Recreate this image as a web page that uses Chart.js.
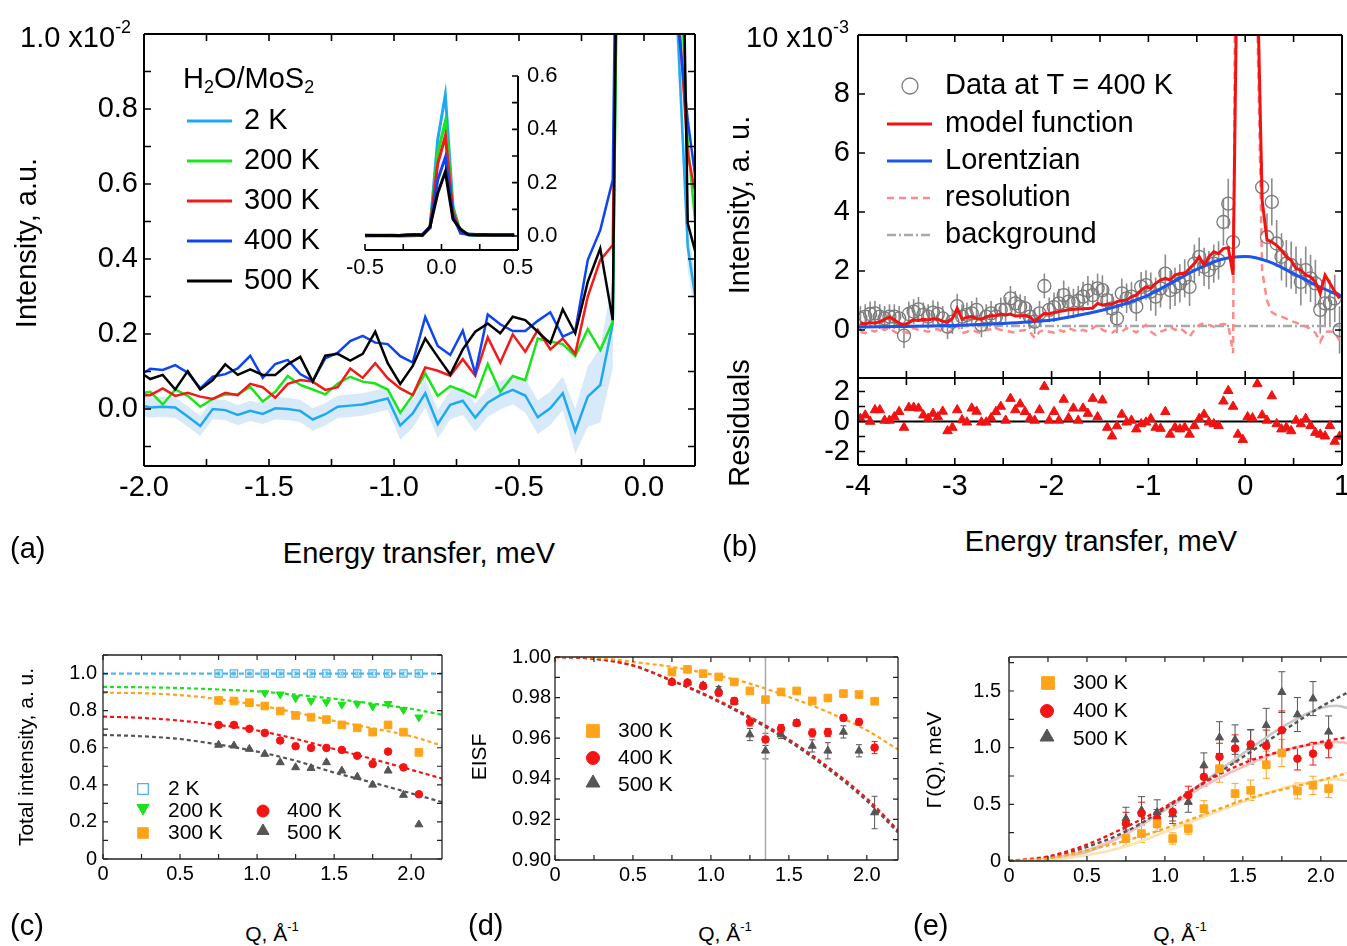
<!DOCTYPE html>
<html>
<head>
<meta charset="utf-8">
<title>H2O/MoS2 quasielastic neutron scattering</title>
<script src="https://cdn.jsdelivr.net/npm/chart.js@4.4.1/dist/chart.umd.min.js"></script>
<style>
  html, body { margin: 0; padding: 0; background: #fff; overflow: hidden; }
  #fig { position: relative; width: 1347px; height: 946px; overflow: hidden; background: #fff;
         font-family: "Liberation Sans", Arial, Helvetica, sans-serif; color: #000; }
  #fig canvas { position: absolute; }
  .t { position: absolute; white-space: nowrap; line-height: 1; }
  .c { transform: translate(-50%, -50%); }
  .l { transform: translate(0, -50%); }
  .r { transform: translate(-50%, -50%) rotate(-90deg); }
  .big { font-size: 29px; }
  .sm { font-size: 21px; }
  sup { font-size: 0.62em; vertical-align: 0.75em; line-height: 0; }
  sub { font-size: 0.62em; vertical-align: -0.3em; line-height: 0; }
</style>
</head>
<body>
<div id="fig">
  <canvas id="chartA" width="720" height="520" style="left:0;top:0"></canvas>
  <canvas id="chartInset" width="240" height="234" style="left:340px;top:56px"></canvas>
  <canvas id="chartB" width="620" height="380" style="left:740px;top:0"></canvas>
  <canvas id="chartBres" width="620" height="150" style="left:740px;top:370px"></canvas>
  <canvas id="chartC" width="470" height="260" style="left:0;top:640px"></canvas>
  <canvas id="chartD" width="470" height="260" style="left:460px;top:640px"></canvas>
  <canvas id="chartE" width="460" height="260" style="left:920px;top:640px"></canvas>

  <div class="t l big" style="left:20px;top:37px">1.0 x10<sup>-2</sup></div>
  <div class="t r big" style="left:26px;top:243px">Intensity, a.u.</div>
  <div class="t c big" style="left:419px;top:553px">Energy transfer, meV</div>
  <div class="t l big" style="left:10px;top:548px">(a)</div>
  <div class="t l big" style="left:183px;top:78px">H<sub>2</sub>O/MoS<sub>2</sub></div>

  <div class="t l big" style="left:746px;top:37px">10 x10<sup>-3</sup></div>
  <div class="t r big" style="left:739px;top:205px">Intensity, a. u.</div>
  <div class="t r big" style="left:739px;top:423px">Residuals</div>
  <div class="t c big" style="left:1101px;top:541px">Energy transfer, meV</div>
  <div class="t l big" style="left:722px;top:546px">(b)</div>

  <div class="t r sm" style="left:25px;top:757px">Total intensity, a. u.</div>
  <div class="t c sm" style="left:272px;top:933px">Q, Å<sup>-1</sup></div>
  <div class="t l big" style="left:10px;top:925px">(c)</div>

  <div class="t r sm" style="left:478px;top:757px">EISF</div>
  <div class="t c sm" style="left:725px;top:933px">Q, Å<sup>-1</sup></div>
  <div class="t l big" style="left:468px;top:925px">(d)</div>

  <div class="t r sm" style="left:933px;top:760px">Γ(Q), meV</div>
  <div class="t c sm" style="left:1180px;top:933px">Q, Å<sup>-1</sup></div>
  <div class="t l big" style="left:913px;top:925px">(e)</div>
</div>

<script>
// ---------- (a) spectra, intensity in units of 1e-2 ----------
const aEnergy = [-2.025, -1.975, -1.925, -1.875, -1.825, -1.775, -1.725, -1.675, -1.625, -1.575,
  -1.525, -1.475, -1.425, -1.375, -1.325, -1.275, -1.225, -1.175, -1.125, -1.075,
  -1.025, -0.975, -0.925, -0.875, -0.825, -0.775, -0.725, -0.675, -0.625, -0.575,
  -0.525, -0.475, -0.425, -0.375, -0.325, -0.275, -0.225, -0.175, -0.125, -0.075,
  -0.025, 0.025, 0.075, 0.125, 0.175, 0.225, 0.275, 0.325, 0.375, 0.425, 0.475];
const a2K = [0.012,
  0.004, 0.006, 0.004, -0.020, -0.045, 0.000, -0.003, -0.016, -0.005, -0.013,
  0.002, 0.000, -0.005, -0.028, -0.014, 0.006, 0.009, 0.012, 0.020,
  0.028, -0.044, -0.012, 0.042, -0.040, 0.011, 0.022, -0.023, 0.017, 0.037,
  0.051, 0.036, -0.022, 0.002, 0.042, -0.059,
  0.033, 0.064, 0.228,
  3.2, 36, 52.9, 11, 1.15, 0.433, 0.21, 0.30, 0.28, 0.30, 0.28, 0.30];
const a200K = [0.040,
  0.046, 0.012, 0.052, 0.035, 0.006, 0.027, 0.039, 0.039, 0.059, 0.020,
  0.046, 0.088, 0.064, 0.052, 0.039, 0.068, 0.086, 0.073, 0.068,
  0.052, -0.010, 0.037, 0.095, 0.035, 0.061, 0.048, 0.031, 0.120, 0.046,
  0.088, 0.077, 0.188, 0.180, 0.173, 0.141,
  0.213, 0.157, 0.233,
  3.0, 31, 42.9, 10, 1.5, 0.71, 0.355, 0.35, 0.32, 0.30, 0.30, 0.28];
const a300K = [0.037,
  0.037, 0.055, 0.035, 0.043, 0.033, 0.027, 0.043, 0.037, 0.067, 0.058,
  0.030, 0.067, 0.077, 0.073, 0.051, 0.058, 0.108, 0.083, 0.122,
  0.082, 0.055, 0.037, 0.111, 0.102, 0.089, 0.133, 0.089, 0.191, 0.124,
  0.199, 0.153, 0.211, 0.159, 0.188, 0.147,
  0.300, 0.397, 0.437,
  3.1, 27, 37.5, 9, 1.2, 0.68, 0.51, 0.40, 0.36, 0.35, 0.33, 0.33];
const a400K = [0.087,
  0.107, 0.104, 0.117, 0.097, 0.055, 0.086, 0.093, 0.108, 0.142, 0.083,
  0.120, 0.131, 0.093, 0.075, 0.135, 0.150, 0.181, 0.195, 0.177,
  0.173, 0.141, 0.124, 0.245, 0.168, 0.144, 0.209, 0.095, 0.252, 0.226,
  0.208, 0.208, 0.235, 0.258, 0.193, 0.208,
  0.397, 0.477, 0.611,
  3.3, 21, 29.5, 7.5, 1.1, 0.77, 0.52, 0.45, 0.42, 0.40, 0.38, 0.38];
const a500K = [0.102,
  0.080, 0.091, 0.052, 0.101, 0.052, 0.077, 0.119, 0.091, 0.106, 0.091,
  0.091, 0.119, 0.139, 0.073, 0.142, 0.147, 0.129, 0.147, 0.206,
  0.122, 0.067, 0.115, 0.188, 0.139, 0.092, 0.159, 0.206, 0.228, 0.202,
  0.246, 0.237, 0.206, 0.175, 0.266, 0.202,
  0.339, 0.428, 0.237,
  3.5, 16, 24.1, 6.3, 2.5, 0.495, 0.37, 0.45, 0.42, 0.40, 0.40, 0.38];
const a2KErr = [0.027, 0.027, 0.027, 0.027, 0.027, 0.027, 0.027, 0.027, 0.027, 0.027,
  0.027, 0.030, 0.030, 0.030, 0.030, 0.030, 0.030, 0.030, 0.030, 0.030,
  0.030, 0.038, 0.038, 0.038, 0.038, 0.038, 0.038, 0.038, 0.038, 0.038,
  0.038, 0.045, 0.045, 0.045, 0.045, 0.060, 0.080, 0.100, 0.120, 0.15,
  0.15, 0.15, 0.15, 0.10, 0.06, 0.05, 0.03, 0.03, 0.03, 0.03, 0.03];
const aNames = ['2 K', '200 K', '300 K', '400 K', '500 K'];
const aUnit = 0.01;   // inset is plotted in absolute units
const aXTickVals = [-2, -1.5, -1, -0.5, 0];
const aXTickText = ['-2.0', '-1.5', '-1.0', '-0.5', '0.0'];
const aYTickVals = [0, 0.2, 0.4, 0.6, 0.8];
const aYTickText = ['0.0', '0.2', '0.4', '0.6', '0.8'];
const insXTickVals = [-0.5, 0, 0.5];
const insXTickText = ['-0.5', '0.0', '0.5'];
const insYTickVals = [0, 0.2, 0.4, 0.6];
const insYTickText = ['0.0', '0.2', '0.4', '0.6'];

// ---------- (b) fit at 400 K, intensity in units of 1e-3 ----------
const bEnergy = [-3.975, -3.925, -3.875, -3.825, -3.775, -3.725, -3.675, -3.625, -3.575, -3.525,
  -3.475, -3.425, -3.375, -3.325, -3.275, -3.225, -3.175, -3.125, -3.075, -3.025,
  -2.975, -2.925, -2.875, -2.825, -2.775, -2.725, -2.675, -2.625, -2.575, -2.525,
  -2.475, -2.425, -2.375, -2.325, -2.275, -2.225, -2.175, -2.125, -2.075, -2.025,
  -1.975, -1.925, -1.875, -1.825, -1.775, -1.725, -1.675, -1.625, -1.575, -1.525,
  -1.475, -1.425, -1.375, -1.325, -1.275, -1.225, -1.175, -1.125, -1.075, -1.025,
  -0.975, -0.925, -0.875, -0.825, -0.775, -0.725, -0.675, -0.625, -0.575, -0.525,
  -0.475, -0.425, -0.375, -0.325, -0.275, -0.225, -0.175, -0.125, -0.075, -0.025,
  0.025, 0.075, 0.125, 0.175, 0.225, 0.275, 0.325, 0.375, 0.425, 0.475,
  0.525, 0.575, 0.625, 0.675, 0.725, 0.775, 0.825, 0.875, 0.925, 0.975];
const bData = [0.39, 0.45, 0.54, 0.56, 0.45, 0.39, 0.45, 0.45, 0.39, -0.19,
  0.54, 0.62, 0.70, 0.51, 0.45, 0.59, 0.54, 0.39, 0.11, 0.28,
  0.81, 0.45, 0.51, 0.56, 0.68, 0.17, 0.45, 0.56, 0.45, 0.68,
  0.70, 1.07, 0.90, 0.79, 0.73, 0.45, 0.28, 0.56, 1.49, 0.68,
  0.77, 0.90, 1.18, 0.96, 0.90, 0.99, 1.13, 1.33, 1.18, 1.41,
  1.35, 1.01, 0.73, 0.39, 1.24, 1.07, 1.13, 0.79, 1.46, 1.52,
  1.30, 1.13, 1.41, 1.91, 1.35, 1.46, 1.58, 1.75, 1.46, 2.25,
  2.48, 2.14, 2.03, 2.25, 2.36, 3.66, 4.28, 2.98, 14, 48,
  62, 26, 12, 4.84, 3.15, 4.34, 2.93, 2.48, 2.25, 2.20,
  2.03, 1.63, 2.03, 1.75, 1.58, 0.68, 0.90, 0.90, 1.07, 0.00];
const bErr = [0.42, 0.42, 0.42, 0.42, 0.42, 0.42, 0.42, 0.42, 0.42, 0.42,
  0.42, 0.42, 0.42, 0.42, 0.42, 0.42, 0.42, 0.42, 0.42, 0.42,
  0.42, 0.42, 0.42, 0.42, 0.42, 0.42, 0.42, 0.42, 0.42, 0.42,
  0.42, 0.42, 0.42, 0.42, 0.42, 0.42, 0.42, 0.42, 0.42, 0.42,
  0.50, 0.50, 0.50, 0.50, 0.50, 0.50, 0.50, 0.50, 0.50, 0.50,
  0.50, 0.50, 0.50, 0.50, 0.50, 0.50, 0.50, 0.50, 0.50, 0.50,
  0.65, 0.65, 0.65, 0.65, 0.65, 0.65, 0.65, 0.65, 0.65, 0.65,
  0.65, 0.65, 0.65, 0.65, 0.65, 0.80, 0.85, 0.80, 1.5, 1.5,
  1.5, 1.5, 1.5, 0.85, 0.80, 0.80, 0.80, 0.80, 0.80, 0.80,
  0.80, 0.80, 0.80, 0.80, 0.80, 0.80, 0.80, 0.80, 0.80, 0.80];
const bModel = [0.23, 0.20, 0.25, 0.23, 0.28, 0.36, 0.43, 0.34, 0.23, 0.17,
  0.25, 0.34, 0.32, 0.36, 0.34, 0.38, 0.36, 0.29, 0.26, 0.39,
  0.73, 0.36, 0.43, 0.45, 0.39, 0.36, 0.45, 0.48, 0.48, 0.54,
  0.51, 0.54, 0.47, 0.48, 0.48, 0.45, 0.28, 0.43, 0.56, 0.54,
  0.59, 0.62, 0.65, 0.68, 0.70, 0.71, 0.72, 0.73, 0.74, 0.90,
  0.84, 0.88, 0.87, 0.96, 0.99, 1.01, 1.13, 1.18, 1.35, 1.46,
  1.41, 1.58, 1.69, 1.75, 1.69, 1.86, 1.91, 1.91, 2.08, 2.25,
  2.48, 2.20, 2.48, 2.65, 2.59, 2.76, 2.79, 1.86, 15, 60,
  70, 30, 12, 4.39, 3.06, 2.98, 2.87, 2.70, 2.48, 2.36,
  2.08, 2.03, 1.86, 1.80, 1.63, 1.24, 1.86, 1.58, 1.30, 1.07];
const bResolution = [-0.06, -0.11, 0.00, -0.06, 0.06, 0.00, 0.08, -0.06, -0.14, -0.06,
  -0.11, 0.06, 0.00, -0.03, -0.06, 0.00, 0.03, -0.06, -0.11, 0.00,
  0.17, -0.11, -0.06, 0.00, -0.06, -0.11, 0.00, 0.02, 0.06, 0.00,
  -0.02, -0.06, -0.09, -0.03, 0.00, -0.06, -0.28, -0.06, 0.00, -0.06,
  -0.09, 0.00, -0.06, 0.06, 0.00, -0.06, 0.00, -0.06, 0.06, 0.17,
  0.00, -0.06, -0.09, 0.00, -0.06, 0.06, 0.00, -0.09, 0.06, 0.17,
  -0.06, -0.17, -0.06, 0.00, 0.11, 0.00, 0.06, -0.06, -0.23, 0.00,
  0.17, 0.23, 0.17, 0.11, 0.17, 0.20, 0.17, -0.79, 30, 80,
  90, 40, 10.5, 2.0, 1.0, 0.60, 0.50, 0.45, 0.38, 0.30,
  0.25, 0.17, 0.12, 0.03, -0.10, -0.40, -0.06, -0.05, -0.10, -0.35];
const bResidual = [0.19, 0.42, 0.00, 0.77, 0.77, 0.07, 0.07, 0.30, 0.65, -0.40,
  0.93, 0.93, 0.88, 0.42, 0.20, 0.53, 0.30, 0.67, -0.63, -0.40,
  0.77, 0.10, -0.05, 0.88, 0.67, -0.05, -0.05, 0.23, 0.65, 1.00,
  0.07, 1.53, 0.77, 1.16, 0.65, 0.19, 0.07, 0.77, 2.33, 0.07,
  0.65, 0.07, 1.47, 0.23, 0.88, 0.07, 0.88, 0.53, 1.53, 0.30,
  1.42, -0.40, -0.98, -0.30, 0.47, -0.05, 0.07, -0.51, -0.16, -0.05,
  0.19, -0.40, -0.47, 0.65, -0.86, -0.40, -0.51, -0.40, -0.86, -0.28,
  0.19, 0.47, -0.05, -0.16, -0.28, 1.35, 2.05, 1.00, -0.86, -1.21,
  0.30, 0.23, 2.51, 0.42, 0.07, 1.70, -0.16, -0.51, -0.40, -0.63,
  0.07, -0.16, 0.19, -0.28, -0.74, -0.86, -0.98, -0.28, -1.33, -1.00];
const bLorEnergy = [-4, -3.75, -3.5, -3.25, -3, -2.75, -2.5, -2.25, -2, -1.75,
  -1.5, -1.25, -1, -0.75, -0.5, -0.25, 0, 0.25, 0.5, 0.75, 1];
const bLorentzian = [0.10, 0.11, 0.12, 0.13, 0.15, 0.18, 0.22, 0.27, 0.34, 0.48,
  0.65, 0.88, 1.18, 1.62, 2.05, 2.39, 2.49, 2.31, 1.91, 1.49, 1.13];
const bBgEnergy = [-4, 1];
const bBackground = [0.13, 0.13];
const bZero = [0, 0];
const bNames = ['Data at T = 400 K', 'model function', 'Lorentzian', 'resolution', 'background'];
const bXTickVals = [-4, -3, -2, -1, 0, 1];
const bXTickText = ['-4', '-3', '-2', '-1', '0', '1'];
const bYTickVals = [0, 2, 4, 6, 8];
const bYTickText = ['0', '2', '4', '6', '8'];
const bResTickVals = [-2, 0, 2];
const bResTickText = ['-2', '0', '2'];

// ---------- (c)-(e) Q dependence ----------
const qVals = [0.75, 0.85, 0.95, 1.05, 1.15, 1.25, 1.35, 1.45, 1.55, 1.65, 1.75, 1.85, 1.95, 2.05];
const qFit = [0, 0.25, 0.5, 0.75, 1.0, 1.25, 1.5, 1.75, 2.0, 2.2];
const qNames = ['2 K', '200 K', '300 K', '400 K', '500 K'];

const c2K = [1.0, 1.0, 1.0, 1.0, 1.0, 1.0, 1.0, 1.0, 1.0, 1.0, 1.0, 1.0, 1.0, 1.0];
const c200K = [null, null, null, 0.895, 0.888, 0.868, 0.852, 0.846, 0.833, 0.837, 0.823, 0.837, 0.804, 0.764];
const c300K = [0.855, 0.852, 0.843, 0.825, 0.798, 0.774, 0.765, 0.752, 0.723, 0.707, 0.684, 0.723, 0.684, 0.575];
const c400K = [0.723, 0.723, 0.702, 0.680, 0.639, 0.608, 0.599, 0.599, 0.588, 0.557, 0.512, 0.579, 0.494, 0.349];
const c500K = [0.615, 0.611, 0.593, 0.566, 0.521, 0.494, 0.490, 0.521, 0.476, 0.443, 0.400, 0.476, 0.345, 0.186];
const cErr = [0.008, 0.008, 0.008, 0.008, 0.008, 0.008, 0.008, 0.008, 0.008, 0.008, 0.008, 0.008, 0.008, 0.008];
const c2KFit = [1, 1, 1, 1, 1, 1, 1, 1, 1, 1];
const c200KFit = [0.928, 0.926, 0.922, 0.914, 0.904, 0.886, 0.864, 0.838, 0.810, 0.778];
const c300KFit = [0.897, 0.894, 0.884, 0.862, 0.830, 0.790, 0.745, 0.705, 0.662, 0.611];
const c400KFit = [0.768, 0.761, 0.746, 0.723, 0.693, 0.648, 0.593, 0.539, 0.481, 0.434];
const c500KFit = [0.669, 0.662, 0.647, 0.617, 0.579, 0.530, 0.466, 0.412, 0.354, 0.307];

const d300K = [0.9926, 0.9939, 0.9918, 0.9902, 0.9877, 0.9833, 0.9790, 0.9828, 0.9833, 0.9784, 0.9798, 0.9820, 0.9815, 0.9782];
const d400K = [0.9877, 0.9874, 0.9856, 0.9823, 0.9784, 0.9680, 0.9594, 0.9647, 0.9675, 0.9626, 0.9628, 0.9700, 0.9680, 0.9554];
const d500K = [0.9877, 0.9874, 0.9860, 0.9840, 0.9779, 0.9618, 0.9538, 0.9618, 0.9675, 0.9562, 0.9538, 0.9631, 0.9538, 0.9234];
const d400Err = [0.001, 0.001, 0.001, 0.001, 0.0015, 0.002, 0.003, 0.002, 0.0015, 0.002, 0.002, 0.0015, 0.0015, 0.003];
const d500Err = [0.001, 0.001, 0.0015, 0.0015, 0.0015, 0.003, 0.004, 0.002, 0.0015, 0.003, 0.004, 0.003, 0.003, 0.008];
const d300KFit = [1.0, 0.9997, 0.9976, 0.9951, 0.9915, 0.9869, 0.9803, 0.9729, 0.9639, 0.9544];
const d400KFit = [1.0, 0.9992, 0.9959, 0.9885, 0.9803, 0.9705, 0.9594, 0.9459, 0.9303, 0.9147];
const d500KFit = [1.0, 0.9991, 0.9957, 0.9882, 0.9798, 0.9698, 0.9585, 0.9449, 0.9291, 0.9135];
const dMarkQ = 1.35;

const e300K = [0.198, 0.242, 0.330, 0.198, 0.286, 0.462, 0.815, 0.595, 0.624, 0.850, 0.953, 0.618, 0.668, 0.639];
const e400K = [0.330, 0.419, 0.374, 0.433, 0.580, 0.742, 0.919, 0.993, 1.030, 1.015, 1.154, 0.903, 0.947, 1.021];
const e500K = [0.374, 0.448, 0.430, 0.410, 0.520, 0.844, 1.089, 1.071, 1.006, 1.197, 1.490, 1.292, 1.433, 1.140];
const e300Err = [0.06, 0.08, 0.07, 0.05, 0.05, 0.07, 0.12, 0.09, 0.09, 0.12, 0.12, 0.07, 0.08, 0.08];
const e400Err = [0.10, 0.10, 0.08, 0.08, 0.08, 0.08, 0.12, 0.12, 0.13, 0.14, 0.17, 0.10, 0.10, 0.11];
const e500Err = [0.10, 0.12, 0.11, 0.08, 0.09, 0.11, 0.14, 0.13, 0.15, 0.15, 0.18, 0.15, 0.15, 0.14];
const eFitQ = [0, 0.25, 0.5, 0.75, 1.0, 1.25, 1.5, 1.75, 2.0, 2.1, 2.2];
const e300Dash = [0, 0.022, 0.094, 0.18, 0.286, 0.41, 0.536, 0.63, 0.712, 0.75, 0.786];
const e300Solid = [0, 0.01, 0.05, 0.13, 0.256, 0.39, 0.521, 0.64, 0.712, 0.72, 0.70];
const e400Dash = [0, 0.04, 0.145, 0.30, 0.477, 0.69, 0.86, 0.97, 1.05, 1.075, 1.10];
const e400Solid = [0, 0.02, 0.094, 0.24, 0.448, 0.66, 0.83, 0.97, 1.04, 1.05, 1.035];
const e500Dash = [0, 0.03, 0.124, 0.26, 0.462, 0.69, 0.918, 1.14, 1.36, 1.435, 1.507];
const e500Solid = [0, 0.02, 0.08, 0.24, 0.453, 0.70, 0.947, 1.18, 1.35, 1.37, 1.336];

const qXTickVals = [0, 0.5, 1, 1.5, 2];
const qXTickText = ['0', '0.5', '1.0', '1.5', '2.0'];
const cYTickVals = [0, 0.2, 0.4, 0.6, 0.8, 1.0];
const cYTickText = ['0', '0.2', '0.4', '0.6', '0.8', '1.0'];
const dYTickVals = [0.90, 0.92, 0.94, 0.96, 0.98, 1.00];
const dYTickText = ['0.90', '0.92', '0.94', '0.96', '0.98', '1.00'];
const eYTickVals = [0, 0.5, 1.0, 1.5];
const eYTickText = ['0', '0.5', '1.0', '1.5'];

// ---------- styling ----------
const COL = {
  k2: '#1FA9F0', k200: '#19E619', k300: '#F41A1A', k400: '#0D45F5', k500: '#000000', band: '#D8EAF9',
  blue: '#4CB6F0', green: '#1DE11D', orange: '#FFA41A', red: '#F51414', gray: '#555555',
  paleOrange: '#FCE2AE', paleRed: '#F5BFBF', paleGray: '#C8C8C8',
  data: '#7A7A7A', model: '#F21212', lor: '#1A55F0', res: '#FF8A8A', bg: '#A8A8A8'
};
const FONT = '"Liberation Sans", Arial, Helvetica, sans-serif';

Chart.defaults.font.family = FONT;
Chart.defaults.color = '#000';
Chart.defaults.animation = false;
Chart.defaults.events = [];
Chart.defaults.plugins.legend.display = false;
Chart.defaults.plugins.tooltip.enabled = false;

function steps(a, b, s) {
  const out = [];
  for (let v = a; v <= b + 1e-9; v += s) out.push(Math.round(v * 1e6) / 1e6);
  return out;
}
const pts = (xs, ys) => xs.map((x, i) => ({x: x, y: ys[i]}));

function line(xs, ys, color, width, extra) {
  return Object.assign({data: pts(xs, ys), showLine: true, borderColor: color, borderWidth: width,
    pointRadius: 0, fill: false, tension: 0}, extra || {});
}
function marks(xs, ys, style, color, r, extra) {
  return Object.assign({data: pts(xs, ys), showLine: false, pointStyle: style, pointRadius: r,
    backgroundColor: color, borderColor: color, borderWidth: 1}, extra || {});
}

function axis(min, max, vals, texts, o) {
  return {
    type: 'linear', min: min, max: max, bounds: 'data', position: o.pos, display: o.display !== false,
    grid: {display: false, drawTicks: false},
    border: {display: false},
    ticks: {display: o.labels !== false, padding: o.pad || 4, font: {size: o.fs || 20}, color: '#000',
      autoSkip: false, maxRotation: 0, minRotation: 0, callback: (v, i) => texts[i]},
    afterBuildTicks: ax => { ax.ticks = vals.map(v => ({value: v})); },
    afterFit: ax => {
      if (o.w !== undefined) ax.width = o.w;
      if (o.h !== undefined) ax.height = o.h;
      // labels never push the plot area around; its box is fixed by the sizes above
      ax.paddingTop = 0; ax.paddingBottom = 0; ax.paddingLeft = 0; ax.paddingRight = 0;
    }
  };
}

// box with inward tick marks on the chosen sides
const framePlugin = {
  id: 'frame',
  afterDatasetsDraw(chart, args, o) {
    if (!o || !o.sides) return;
    const ctx = chart.ctx, a = chart.chartArea, xs = chart.scales.x, ys = chart.scales.y;
    ctx.save();
    ctx.strokeStyle = o.color || '#000';
    ctx.lineWidth = o.width || 1.5;
    ctx.beginPath();
    if (o.sides.includes('t')) { ctx.moveTo(a.left, a.top); ctx.lineTo(a.right, a.top); }
    if (o.sides.includes('b')) { ctx.moveTo(a.left, a.bottom); ctx.lineTo(a.right, a.bottom); }
    if (o.sides.includes('l')) { ctx.moveTo(a.left, a.top); ctx.lineTo(a.left, a.bottom); }
    if (o.sides.includes('r')) { ctx.moveTo(a.right, a.top); ctx.lineTo(a.right, a.bottom); }
    ctx.stroke();
    ctx.lineWidth = o.tickWidth || 1.5;
    const L = o.len || 6;
    ctx.beginPath();
    (o.xTicks || []).forEach(v => {
      const p = xs.getPixelForValue(v);
      if (p < a.left - 0.5 || p > a.right + 0.5) return;
      if (o.sides.includes('b')) { ctx.moveTo(p, a.bottom); ctx.lineTo(p, a.bottom - L); }
      if (o.sides.includes('t')) { ctx.moveTo(p, a.top); ctx.lineTo(p, a.top + L); }
    });
    (o.yTicks || []).forEach(v => {
      const p = ys.getPixelForValue(v);
      if (p < a.top - 0.5 || p > a.bottom + 0.5) return;
      if (o.sides.includes('l')) { ctx.moveTo(a.left, p); ctx.lineTo(a.left + L, p); }
      if (o.sides.includes('r')) { ctx.moveTo(a.right, p); ctx.lineTo(a.right - L, p); }
    });
    ctx.stroke();
    ctx.restore();
  }
};

// vertical error bars read from dataset.errors
const errorBarPlugin = {
  id: 'errorBars',
  beforeDatasetsDraw(chart) {
    const ctx = chart.ctx, a = chart.chartArea, xs = chart.scales.x, ys = chart.scales.y;
    ctx.save();
    ctx.beginPath(); ctx.rect(a.left, a.top, a.width, a.height); ctx.clip();
    chart.data.datasets.forEach(ds => {
      if (!ds.errors) return;
      ctx.strokeStyle = ds.errorColor || ds.borderColor;
      ctx.lineWidth = ds.errorWidth || 1;
      const cap = ds.errorCap || 0;
      ctx.beginPath();
      ds.data.forEach((p, i) => {
        const e = ds.errors[i];
        if (p.y === null || p.y === undefined || !e) return;
        const px = xs.getPixelForValue(p.x);
        const y1 = ys.getPixelForValue(p.y - e), y2 = ys.getPixelForValue(p.y + e);
        ctx.moveTo(px, y1); ctx.lineTo(px, y2);
        if (cap) {
          ctx.moveTo(px - cap, y1); ctx.lineTo(px + cap, y1);
          ctx.moveTo(px - cap, y2); ctx.lineTo(px + cap, y2);
        }
      });
      ctx.stroke();
    });
    ctx.restore();
  }
};

// in-plot legends
const keyPlugin = {
  id: 'key',
  afterDraw(chart, args, o) {
    if (!o || !o.items) return;
    const ctx = chart.ctx;
    ctx.save();
    ctx.font = o.size + 'px ' + FONT;
    ctx.textBaseline = 'middle';
    ctx.textAlign = 'left';
    o.items.forEach(it => {
      if (it.line) {
        ctx.strokeStyle = it.color; ctx.lineWidth = it.width; ctx.setLineDash(it.dash || []);
        ctx.beginPath(); ctx.moveTo(it.x, it.y); ctx.lineTo(it.x2, it.y); ctx.stroke();
        ctx.setLineDash([]);
      } else {
        ctx.fillStyle = it.fill; ctx.strokeStyle = it.color; ctx.lineWidth = it.bw || 1;
        Chart.helpers.drawPoint(ctx, {pointStyle: it.mark, radius: it.r, borderWidth: it.bw || 1,
          rotation: it.rot || 0}, it.x, it.my !== undefined ? it.my : it.y);
      }
      ctx.fillStyle = '#000';
      ctx.fillText(it.text, it.tx, it.y);
    });
    ctx.restore();
  }
};

Chart.register(framePlugin, errorBarPlugin, keyPlugin);

function base(padding, scales, plugins) {
  return {responsive: false, maintainAspectRatio: false, layout: {padding: padding, autoPadding: false},
    scales: scales, plugins: plugins};
}

// ---------- (a) ----------
const a2KUpper = a2K.map((v, i) => v + a2KErr[i]);
const a2KLower = a2K.map((v, i) => v - a2KErr[i]);
const aColors = [COL.k2, COL.k200, COL.k300, COL.k400, COL.k500];
new Chart(document.getElementById('chartA'), {
  type: 'scatter',
  data: {datasets: [
    line(aEnergy, a500K, COL.k500, 2.5, {order: 1}),
    line(aEnergy, a400K, COL.k400, 2.5, {order: 2}),
    line(aEnergy, a300K, COL.k300, 2.5, {order: 3}),
    line(aEnergy, a200K, COL.k200, 2.5, {order: 4}),
    line(aEnergy, a2K, COL.k2, 2.5, {order: 5}),
    line(aEnergy, a2KUpper, 'rgba(0,0,0,0)', 0, {order: 7}),
    line(aEnergy, a2KLower, 'rgba(0,0,0,0)', 0, {order: 6, fill: 5, backgroundColor: COL.band})
  ]},
  options: base({left: 0, right: 25, top: 34, bottom: 0}, {
    x: axis(-2.0, 0.204, aXTickVals, aXTickText, {pos: 'bottom', pad: 5, fs: 29, h: 54}),
    y: axis(-0.152, 1.0, aYTickVals, aYTickText, {pos: 'left', pad: 6, fs: 29, w: 144})
  }, {
    frame: {sides: 'tblr', width: 2, tickWidth: 1.6, len: 7, xTicks: steps(-2, 0.2, 0.25), yTicks: steps(-0.1, 1.0, 0.1)},
    key: {size: 29, items: aNames.map((n, i) => ({line: true, x: 187, x2: 232, y: 121 + 40 * i,
      color: aColors[i], width: 3, text: n, tx: 244}))}
  })
});

// inset of (a)
new Chart(document.getElementById('chartInset'), {
  type: 'scatter',
  data: {datasets: [
    line(aEnergy, a500K.map(v => v * aUnit), COL.k500, 3, {order: 1}),
    line(aEnergy, a400K.map(v => v * aUnit), COL.k400, 3, {order: 2}),
    line(aEnergy, a300K.map(v => v * aUnit), COL.k300, 3, {order: 3}),
    line(aEnergy, a200K.map(v => v * aUnit), COL.k200, 3, {order: 4}),
    line(aEnergy, a2K.map(v => v * aUnit), COL.k2, 3, {order: 5})
  ]},
  options: base({left: 25, right: 0, top: 20, bottom: 0}, {
    x: axis(-0.5, 0.5, insXTickVals, insXTickText, {pos: 'bottom', pad: 5, fs: 22, h: 40}),
    y: axis(-0.0525, 0.6, insYTickVals, insYTickText, {pos: 'right', pad: 9, fs: 22, w: 62})
  }, {
    frame: {sides: 'br', width: 2, tickWidth: 1.6, len: 6, xTicks: steps(-0.5, 0.5, 0.25), yTicks: steps(0, 0.6, 0.1)}
  })
});

// ---------- (b) ----------
new Chart(document.getElementById('chartB'), {
  type: 'scatter',
  data: {datasets: [
    line(bEnergy, bModel, COL.model, 3, {order: 1}),
    line(bLorEnergy, bLorentzian, COL.lor, 3, {order: 2, cubicInterpolationMode: 'monotone'}),
    marks(bEnergy, bData, 'circle', 'rgba(0,0,0,0)', 6.5, {order: 3, borderColor: COL.data, borderWidth: 1.3,
      errors: bErr, errorColor: '#8C8C8C', errorWidth: 1.6}),
    line(bEnergy, bResolution, COL.res, 2.5, {order: 4, borderDash: [7, 5]}),
    line(bBgEnergy, bBackground, COL.bg, 2.5, {order: 5, borderDash: [9, 3, 2, 3]})
  ]},
  options: base({left: 0, right: 18, top: 35, bottom: 2}, {
    x: axis(-4, 1, bXTickVals, bXTickText, {pos: 'bottom', display: false}),
    y: axis(-1.63, 10, bYTickVals, bYTickText, {pos: 'left', pad: 8, fs: 29, w: 118})
  }, {
    frame: {sides: 'tblr', width: 2, tickWidth: 1.6, len: 7, xTicks: steps(-4, 1, 0.5), yTicks: steps(0, 10, 2)},
    key: {size: 29, items: [
      {mark: 'circle', x: 170, y: 86, r: 8, fill: 'rgba(0,0,0,0)', color: COL.data, bw: 1.3, text: bNames[0], tx: 205},
      {line: true, x: 147, x2: 192, y: 124, color: COL.model, width: 3, text: bNames[1], tx: 205},
      {line: true, x: 147, x2: 192, y: 161, color: COL.lor, width: 3, text: bNames[2], tx: 205},
      {line: true, x: 147, x2: 192, y: 198, color: COL.res, width: 2.5, dash: [7, 5], text: bNames[3], tx: 205},
      {line: true, x: 147, x2: 192, y: 235, color: COL.bg, width: 2.5, dash: [9, 3, 2, 3], text: bNames[4], tx: 205}
    ]}
  })
});

new Chart(document.getElementById('chartBres'), {
  type: 'scatter',
  data: {datasets: [
    marks(bEnergy, bResidual, 'triangle', COL.model, 5.5, {order: 1}),
    line(bBgEnergy, bZero, '#000', 1.8, {order: 2})
  ]},
  options: base({left: 0, right: 18, top: 8, bottom: 0}, {
    x: axis(-4, 1, bXTickVals, bXTickText, {pos: 'bottom', pad: 5, fs: 29, h: 55}),
    y: axis(-2.9, 2.9, bResTickVals, bResTickText, {pos: 'left', pad: 8, fs: 29, w: 118})
  }, {
    frame: {sides: 'tblr', width: 2, tickWidth: 1.6, len: 7, xTicks: steps(-4, 1, 0.5), yTicks: steps(-2, 2, 1)}
  })
});

// ---------- (c) ----------
const fitDash = [4, 3];
new Chart(document.getElementById('chartC'), {
  type: 'scatter',
  data: {datasets: [
    marks(qVals, c500K, 'triangle', COL.gray, 4.6, {order: 1, errors: cErr, errorCap: 2}),
    marks(qVals, c400K, 'circle', COL.red, 3.8, {order: 2, errors: cErr, errorCap: 2}),
    marks(qVals, c300K, 'rect', COL.orange, 5.4, {order: 3, errors: cErr, errorCap: 2}),
    marks(qVals, c200K, 'triangle', COL.green, 4.6, {order: 4, rotation: 180, errors: cErr, errorCap: 2}),
    marks(qVals, c2K, 'rect', 'rgba(0,0,0,0)', 5.2, {order: 5, borderColor: COL.blue, borderWidth: 1.2,
      errors: cErr, errorColor: COL.blue, errorCap: 2}),
    line(qFit, c500KFit, COL.gray, 2.2, {order: 6, borderDash: fitDash, cubicInterpolationMode: 'monotone'}),
    line(qFit, c400KFit, COL.red, 2.2, {order: 7, borderDash: fitDash, cubicInterpolationMode: 'monotone'}),
    line(qFit, c300KFit, COL.orange, 2.2, {order: 8, borderDash: fitDash, cubicInterpolationMode: 'monotone'}),
    line(qFit, c200KFit, COL.green, 2.2, {order: 9, borderDash: fitDash, cubicInterpolationMode: 'monotone'}),
    line(qFit, c2KFit, COL.blue, 2.2, {order: 10, borderDash: [5, 3]})
  ]},
  options: base({left: 0, right: 28, top: 15, bottom: 0}, {
    x: axis(0, 2.2, qXTickVals, qXTickText, {pos: 'bottom', pad: 3, fs: 20, h: 41}),
    y: axis(0, 1.1, cYTickVals, cYTickText, {pos: 'left', pad: 6, fs: 20, w: 103})
  }, {
    frame: {sides: 'tblr', color: '#222', width: 1.3, tickWidth: 1.2, len: 5, xTicks: steps(0, 2.2, 0.25), yTicks: steps(0, 1.1, 0.1)},
    key: {size: 21, items: [
      {mark: 'rect', x: 143, y: 149, r: 7.5, fill: 'rgba(0,0,0,0)', color: COL.blue, bw: 1.3, text: qNames[0], tx: 168},
      {mark: 'triangle', rot: 180, x: 143, y: 171, my: 168, r: 7, fill: COL.green, color: COL.green, text: qNames[1], tx: 168},
      {mark: 'rect', x: 143, y: 193, r: 7.5, fill: COL.orange, color: COL.orange, text: qNames[2], tx: 168},
      {mark: 'circle', x: 263, y: 171, r: 6, fill: COL.red, color: COL.red, text: qNames[3], tx: 287},
      {mark: 'triangle', x: 263, y: 193, my: 191, r: 7, fill: COL.gray, color: COL.gray, text: qNames[4], tx: 287}
    ]}
  })
});

// ---------- (d) ----------
new Chart(document.getElementById('chartD'), {
  type: 'scatter',
  data: {datasets: [
    marks(qVals, d300K, 'rect', COL.orange, 5.4, {order: 1}),
    marks(qVals, d400K, 'circle', COL.red, 3.8, {order: 2, errors: d400Err, errorCap: 3}),
    marks(qVals, d500K, 'triangle', COL.gray, 4.6, {order: 3, errors: d500Err, errorCap: 3}),
    line(qFit, d300KFit, COL.orange, 2.2, {order: 4, borderDash: fitDash, cubicInterpolationMode: 'monotone'}),
    line(qFit, d400KFit, COL.red, 2.2, {order: 5, borderDash: fitDash, cubicInterpolationMode: 'monotone'}),
    line(qFit, d500KFit, COL.gray, 2.2, {order: 6, borderDash: fitDash, cubicInterpolationMode: 'monotone'}),
    line([dMarkQ, dMarkQ], [0.9, 1.0], '#A8A8A8', 1.5, {order: 7})
  ]},
  options: base({left: 0, right: 32, top: 17, bottom: 0}, {
    x: axis(0, 2.2, qXTickVals, qXTickText, {pos: 'bottom', pad: 3, fs: 20, h: 40}),
    y: axis(0.9, 1.0, dYTickVals, dYTickText, {pos: 'left', pad: 4, fs: 20, w: 95})
  }, {
    frame: {sides: 'tblr', color: '#222', width: 1.3, tickWidth: 1.2, len: 5, xTicks: steps(0, 2.2, 0.25), yTicks: steps(0.9, 1.0, 0.01)},
    key: {size: 21, items: [
      {mark: 'rect', x: 133, y: 91, r: 9, fill: COL.orange, color: COL.orange, text: qNames[2], tx: 158},
      {mark: 'circle', x: 133, y: 118, r: 6.5, fill: COL.red, color: COL.red, text: qNames[3], tx: 158},
      {mark: 'triangle', x: 133, y: 145, my: 143, r: 8, fill: COL.gray, color: COL.gray, text: qNames[4], tx: 158}
    ]}
  })
});

// ---------- (e) ----------
new Chart(document.getElementById('chartE'), {
  type: 'scatter',
  data: {datasets: [
    marks(qVals, e300K, 'rect', COL.orange, 5.4, {order: 1, errors: e300Err, errorCap: 3.5}),
    marks(qVals, e400K, 'circle', COL.red, 3.8, {order: 2, errors: e400Err, errorCap: 3.5}),
    marks(qVals, e500K, 'triangle', COL.gray, 4.6, {order: 3, errors: e500Err, errorCap: 3.5}),
    line(eFitQ, e300Dash, COL.orange, 2.4, {order: 4, borderDash: fitDash, cubicInterpolationMode: 'monotone'}),
    line(eFitQ, e400Dash, COL.red, 2.4, {order: 5, borderDash: fitDash, cubicInterpolationMode: 'monotone'}),
    line(eFitQ, e500Dash, COL.gray, 2.4, {order: 6, borderDash: fitDash, cubicInterpolationMode: 'monotone'}),
    line(eFitQ, e300Solid, COL.paleOrange, 2.6, {order: 7, cubicInterpolationMode: 'monotone'}),
    line(eFitQ, e400Solid, COL.paleRed, 2.6, {order: 8, cubicInterpolationMode: 'monotone'}),
    line(eFitQ, e500Solid, COL.paleGray, 2.6, {order: 9, cubicInterpolationMode: 'monotone'})
  ]},
  options: base({left: 0, right: 28, top: 17, bottom: 0}, {
    x: axis(0, 2.2, qXTickVals, qXTickText, {pos: 'bottom', pad: 3, fs: 20, h: 39}),
    y: axis(0, 1.8, eYTickVals, eYTickText, {pos: 'left', pad: 8, fs: 20, w: 89})
  }, {
    frame: {sides: 'tblr', color: '#222', width: 1.3, tickWidth: 1.2, len: 5, xTicks: steps(0, 2.2, 0.25), yTicks: steps(0, 1.75, 0.25)},
    key: {size: 21, items: [
      {mark: 'rect', x: 128, y: 43, r: 9, fill: COL.orange, color: COL.orange, text: qNames[2], tx: 153},
      {mark: 'circle', x: 127, y: 71, r: 6.5, fill: COL.red, color: COL.red, text: qNames[3], tx: 153},
      {mark: 'triangle', x: 127, y: 99, my: 97, r: 8, fill: COL.gray, color: COL.gray, text: qNames[4], tx: 153}
    ]}
  })
});
</script>
</body>
</html>
